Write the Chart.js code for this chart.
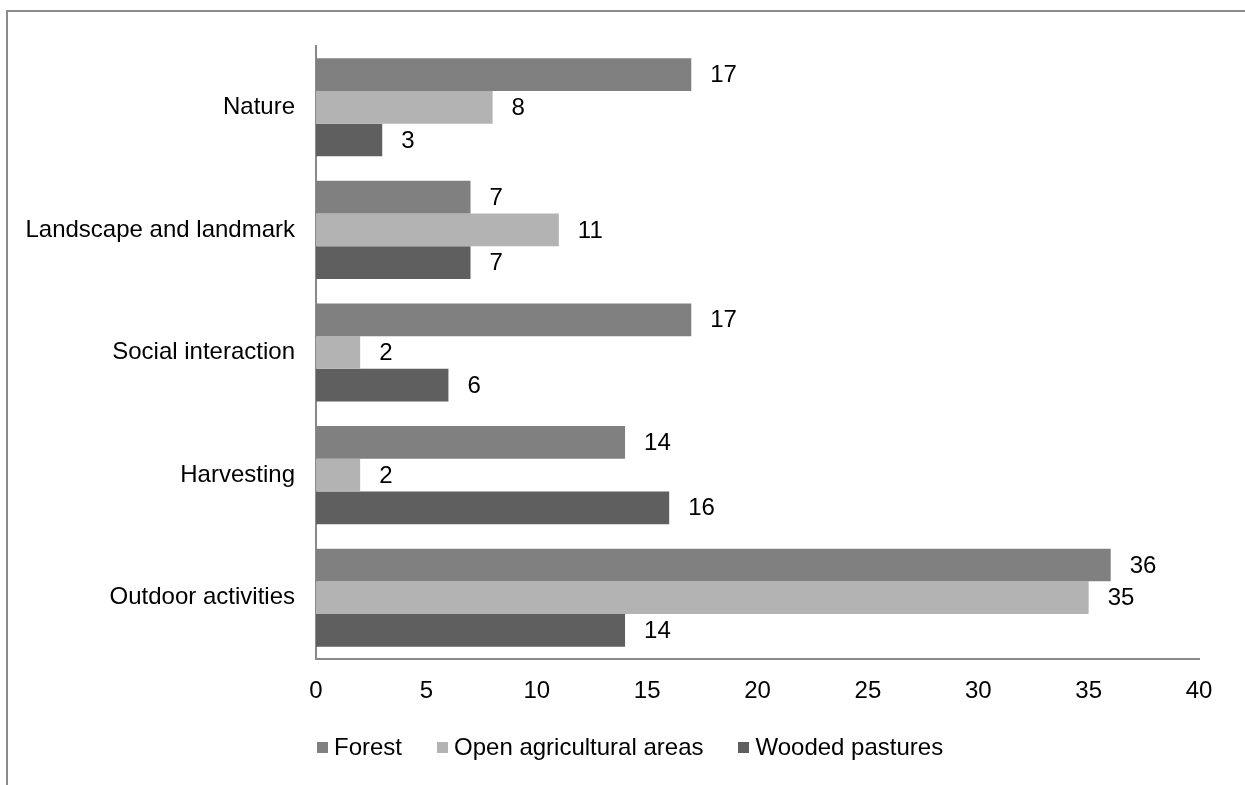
<!DOCTYPE html>
<html>
<head>
<meta charset="utf-8">
<script src="https://cdn.jsdelivr.net/npm/chart.js@4"></script>
<style>
  html, body { margin: 0; padding: 0; background: #fff; }
  #wrap { position: relative; width: 1245px; height: 785px; overflow: hidden; }
  #frame {
    position: absolute; left: 6px; top: 10px; right: -4px; bottom: -4px;
    border-top: 2px solid #8c8c8c; border-left: 2px solid #8c8c8c;
  }
  canvas { position: absolute; left: 0; top: 0; }
  #legend {
    position: absolute; left: 317px; top: 733px; display: flex; align-items: center;
    font: 24px "Liberation Sans", Arial, sans-serif; color: #000;
  }
  #legend .item { display: flex; align-items: center; margin-right: 35px; }
  #legend .box { width: 11px; height: 11px; margin-right: 6px; }
</style>
</head>
<body>
<div id="wrap">
  <div id="frame"></div>
  <canvas id="chart" width="1245" height="785"></canvas>
  <div id="legend"></div>
</div>
<script>
const categories = ['Nature', 'Landscape and landmark', 'Social interaction', 'Harvesting', 'Outdoor activities']
const forest = [17, 7, 17, 14, 36]
const openAgricultural = [8, 11, 2, 2, 35]
const woodedPastures = [3, 7, 6, 16, 14]
const xTicks = [0, 5, 10, 15, 20, 25, 30, 35, 40]

const FONT = '"Liberation Sans", Arial, sans-serif'
const AXIS_GREY = '#8a8a8a'

const series = [
  { label: 'Forest', data: forest, color: '#808080' },
  { label: 'Open agricultural areas', data: openAgricultural, color: '#b3b3b3' },
  { label: 'Wooded pastures', data: woodedPastures, color: '#5f5f5f' }
]

// value printed just past the end of each bar
const barValues = {
  id: 'barValues',
  afterDatasetsDraw(chart) {
    const { ctx } = chart
    ctx.save()
    ctx.font = '24px ' + FONT
    ctx.fillStyle = '#000'
    ctx.textAlign = 'left'
    ctx.textBaseline = 'middle'
    chart.data.datasets.forEach((ds, i) => {
      chart.getDatasetMeta(i).data.forEach((bar, j) => {
        ctx.fillText(String(ds.data[j]), bar.x + 19, bar.y + 1)
      })
    })
    ctx.restore()
  }
}

const ctx = document.getElementById('chart').getContext('2d')
const chart = new Chart(ctx, {
  type: 'bar',
  data: {
    labels: categories,
    datasets: series.map(s => ({
      label: s.label,
      data: s.data,
      backgroundColor: s.color,
      borderWidth: 0,
      categoryPercentage: 0.8,
      barPercentage: 1.0
    }))
  },
  options: {
    indexAxis: 'y',
    responsive: false,
    animation: false,
    events: [],
    layout: { padding: { top: 46, right: 46, left: 0, bottom: 0 } },
    plugins: {
      legend: { display: false },
      tooltip: { enabled: false }
    },
    scales: {
      x: {
        min: 0,
        max: 40,
        afterBuildTicks: (scale) => { scale.ticks = xTicks.map(v => ({ value: v })) },
        afterFit: (scale) => { scale.height = 126 },
        grid: { display: false, drawTicks: false },
        border: { display: true, color: AXIS_GREY, width: 2 },
        ticks: {
          color: '#000',
          padding: 18,
          maxRotation: 0,
          font: { family: FONT, size: 24 }
        }
      },
      y: {
        afterFit: (scale) => { scale.width = 316 },
        grid: { display: false, drawTicks: false },
        border: { display: true, color: AXIS_GREY, width: 2 },
        ticks: {
          color: '#000',
          padding: 21,
          font: { family: FONT, size: 24 }
        }
      }
    }
  },
  plugins: [barValues]
})

// legend row under the axis
const legend = document.getElementById('legend')
series.forEach(s => {
  const item = document.createElement('div')
  item.className = 'item'
  const box = document.createElement('span')
  box.className = 'box'
  box.style.background = s.color
  const text = document.createElement('span')
  text.textContent = s.label
  item.appendChild(box)
  item.appendChild(text)
  legend.appendChild(item)
})
</script>
</body>
</html>
